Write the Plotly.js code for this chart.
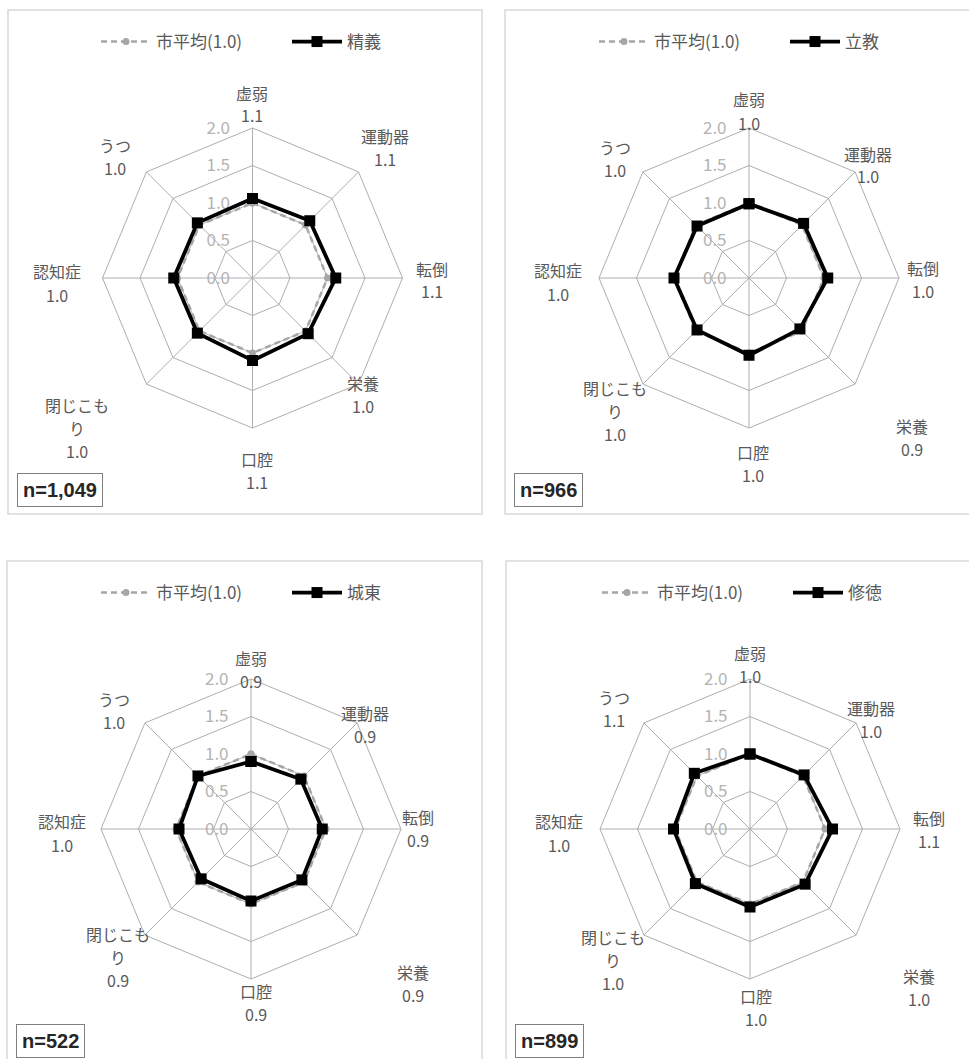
<!DOCTYPE html>
<html><head><meta charset="utf-8">
<script src="https://cdn.plot.ly/plotly-3.0.1.min.js"></script>
<style>html,body{margin:0;padding:0;background:#fff}#chart{width:969px;height:1059px}</style>
</head><body><div id="chart"></div>
<script>
// ---------- data ----------
const categories = ['虚弱','運動器','転倒','栄養','口腔','閉じこもり','認知症','うつ'];
const cityAvgName = '市平均(1.0)';
const cityAvg = [1.0,1.0,1.0,1.0,1.0,1.0,1.0,1.0];
const areaNames = ['精義','立教','城東','修徳'];
const sampleSizes = ['n=1,049','n=966','n=522','n=899'];
const seigi   = [1.06,1.08,1.11,1.05,1.10,1.04,1.05,1.04];
const rikkyo  = [0.99,1.03,1.05,0.96,1.03,0.98,1.00,0.98];
const joto    = [0.90,0.94,0.95,0.96,0.96,0.94,0.96,1.00];
const shutoku = [1.00,1.02,1.10,1.04,1.04,1.03,1.02,1.05];
const labels1 = ['1.1','1.1','1.1','1.0','1.1','1.0','1.0','1.0'];
const labels2 = ['1.0','1.0','1.0','0.9','1.0','1.0','1.0','1.0'];
const labels3 = ['0.9','0.9','0.9','0.9','0.9','0.9','1.0','1.0'];
const labels4 = ['1.0','1.0','1.1','1.0','1.0','1.0','1.0','1.1'];
const radialTicks = [0,0.5,1.0,1.5,2.0];

const areaValues = [seigi, rikkyo, joto, shutoku];
const areaLabels = [labels1, labels2, labels3, labels4];

// ---------- layout config (px) ----------
const W = 969, H = 1059, R = 150;
const panels = [
  {left:8,   top:10,  right:482, bottom:514,  cx:252.5, cy:278, legendX:96},
  {left:505, top:10,  right:975, bottom:514,  cx:749,   cy:278, legendX:594},
  {left:7,   top:561, right:482, bottom:1070, cx:251,   cy:829, legendX:96},
  {left:506, top:561, right:975, bottom:1070, cx:750,   cy:829, legendX:597}
];
// label block centre offsets from chart centre (Excel auto-placement)
const labelOffsets = [
  [[0,-174],[132,-131],[179,2],[110,116],[4,192],[-176,150],[-196,5],[-138,-122]],
  [[0,-167],[119,-113],[174,1],[163,159],[4,185],[-134,133],[-191,4],[-134,-120]],
  [[0,-160],[114,-105],[167,-1],[162,154],[5,173],[-133,128],[-189,4],[-137,-119]],
  [[0,-165],[121,-110],[179,0],[169,158],[6,178],[-137,131],[-191,4],[-136,-121]]
];
const wrap = {'閉じこもり':['閉じこも','り']};
const LINE = 23;
const jp = "'Noto Sans CJK JP','Noto Sans',sans-serif";
const px = x => x / W;
const py = y => 1 - y / H;

const close = a => a.concat([a[0]]);
const traces = [], annotations = [], shapes = [];
const layout = {
  width: W, height: H, margin:{l:0,r:0,t:0,b:0,autoexpand:false},
  paper_bgcolor:'#fff', plot_bgcolor:'#fff',
  font:{family:jp, color:'#595959', size:16},
  showlegend:true
};
const gridColor = '#aeaeae';

panels.forEach((p, i) => {
  const k = i === 0 ? '' : String(i+1);
  const polarName = 'polar' + k, legendName = 'legend' + k;
  layout[polarName] = {
    domain:{x:[px(p.cx-R), px(p.cx+R)], y:[py(p.cy+R), py(p.cy-R)]},
    gridshape:'linear',
    bgcolor:'rgba(0,0,0,0)',
    radialaxis:{
      range:[0,2], tickvals:radialTicks, tickformat:'.1f', angle:90, side:'counterclockwise',
      tickangle:90, showline:false, ticks:'outside', ticklen:16, tickcolor:'rgba(0,0,0,0)',
      gridcolor:gridColor, gridwidth:1,
      tickfont:{family:jp, size:17, color:'#b3b3b3'}, layer:'below traces'
    },
    angularaxis:{
      type:'category', categoryarray:categories, rotation:90, direction:'clockwise',
      showticklabels:false, ticks:'', gridcolor:gridColor, gridwidth:1,
      showline:true, linecolor:gridColor, linewidth:1, layer:'below traces'
    }
  };
  layout[legendName] = {
    orientation:'h', x:px(p.legendX), xanchor:'left',
    y:py(p.top+32), yanchor:'middle', font:{family:jp, size:17, color:'#595959'},
    bgcolor:'rgba(0,0,0,0)', itemwidth:50, entrywidth:126, entrywidthmode:'pixels', traceorder:'normal'
  };
  traces.push({
    type:'scatterpolar', subplot:polarName, legend:legendName, name:cityAvgName,
    r:close(cityAvg), theta:close(categories), mode:'lines+markers',
    line:{color:'#a6a6a6', width:2.5, dash:'6px,4px'},
    marker:{symbol:'circle', size:7, color:'#a6a6a6'}, cliponaxis:false, hoverinfo:'skip'
  });
  traces.push({
    type:'scatterpolar', subplot:polarName, legend:legendName, name:areaNames[i],
    r:close(areaValues[i]), theta:close(categories), mode:'lines+markers',
    line:{color:'#000000', width:3.8},
    marker:{symbol:'square', size:11, color:'#000000'}, cliponaxis:false, hoverinfo:'skip'
  });
  shapes.push({type:'rect', xref:'paper', yref:'paper',
    x0:px(p.left), x1:px(p.right), y0:py(p.bottom), y1:py(p.top),
    line:{color:'#d9d9d9', width:1.5}, fillcolor:'rgba(0,0,0,0)', layer:'below'});
  categories.forEach((c, j) => {
    const lines = (wrap[c] || [c]).concat([areaLabels[i][j]]);
    const [dx, dy] = labelOffsets[i][j];
    lines.forEach((t, m) => {
      const yy = p.cy + dy + (m - (lines.length-1)/2) * LINE;
      annotations.push({xref:'paper', yref:'paper', x:px(p.cx+dx), y:py(yy),
        xanchor:'center', yanchor:'middle', showarrow:false, text:t,
        font:{family:jp, size:16, color:'#595959'}});
    });
  });
  annotations.push({xref:'paper', yref:'paper', x:px(p.left+9), y:py(p.top+463),
    xanchor:'left', yanchor:'top', showarrow:false, text:'<b>'+sampleSizes[i]+'</b>',
    bordercolor:'#7f7f7f', borderwidth:1, borderpad:5, bgcolor:'#ffffff',
    font:{family:"'Liberation Sans Narrow','Arial Narrow','Liberation Sans',sans-serif", size:20, color:'#262626'}});
});
layout.annotations = annotations;
layout.shapes = shapes;
Plotly.newPlot('chart', traces, layout, {displayModeBar:false, staticPlot:true});
</script></body></html>
